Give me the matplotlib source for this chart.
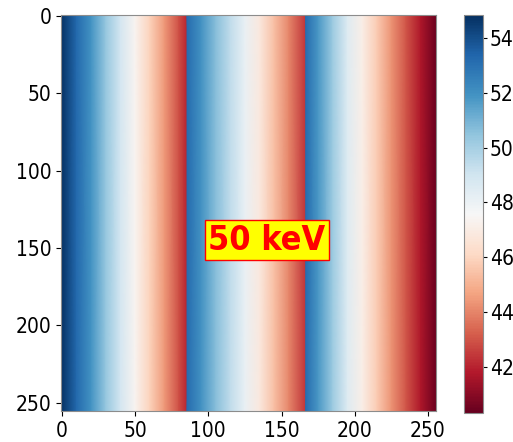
import numpy as np
import matplotlib
matplotlib.use("Agg")
import matplotlib.pyplot as plt

plt.rcParams['font.stretch'] = 'condensed'

# column positions (pixel index) and the value read at each one, stripe by stripe
stripe1_x = [-0.5, 10, 20, 30, 40, 50, 60, 70, 80, 85.5]
stripe1_v = [54.8, 53.3, 51.9, 50.4, 48.9, 47.4, 45.9, 44.4, 42.9, 42.0]
stripe2_x = [85.5, 95, 105, 115, 125, 135, 145, 155, 166.5]
stripe2_v = [53.2, 52.0, 50.7, 49.4, 48.1, 46.8, 45.4, 44.0, 42.3]
stripe3_x = [166.5, 175, 185, 195, 205, 215, 225, 235, 245, 255.5]
stripe3_v = [53.2, 51.8, 50.2, 48.5, 47.1, 45.7, 44.3, 43.0, 41.7, 40.4]
row_y = [-0.5, 255.5]
vmin, vmax = 40.3, 54.85
cbar_ticks = [42, 44, 46, 48, 50, 52, 54]
axis_ticks = [0, 50, 100, 150, 200, 250]
label = "50 keV"

fig = plt.figure(figsize=(5.13, 4.42), dpi=100)
ax = fig.add_axes([0.119, 0.070, 0.731, 0.896])
cax = fig.add_axes([0.9045, 0.0656, 0.037, 0.900])

col_x = stripe1_x + stripe2_x + stripe3_x
col_v = stripe1_v + stripe2_v + stripe3_v
X, Y = np.meshgrid(col_x, row_y)
C = np.array([col_v, col_v])
mesh = ax.pcolormesh(X, Y, C, shading='gouraud', cmap='RdBu', vmin=vmin, vmax=vmax)
ax.set_xlim(-0.5, 255.5)
ax.set_ylim(255.5, -0.5)
ax.set_xticks(axis_ticks)
ax.set_yticks(axis_ticks)
ax.tick_params(labelsize=15)
for s in ax.spines.values():
    s.set_edgecolor('0.55')

ax.text(100, 145, label, ha='left', va='center', fontsize=24.5, fontweight='bold',
        color='red', bbox=dict(facecolor='yellow', edgecolor='red', pad=2.5))

cb = fig.colorbar(mesh, cax=cax, ticks=cbar_ticks)
cb.ax.tick_params(labelsize=15, pad=2, length=3)
cb.outline.set_edgecolor('0.55')

fig.savefig("out.png", dpi=100)
